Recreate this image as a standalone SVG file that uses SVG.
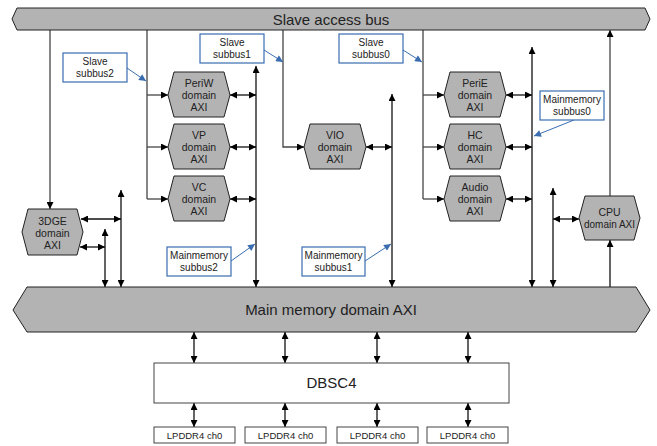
<svg xmlns="http://www.w3.org/2000/svg" width="657" height="446" viewBox="0 0 657 446">
<style>
text{font-family:"Liberation Sans",Arial,sans-serif;fill:#222;text-anchor:middle}
.bus{fill:#b3b3b3;stroke:#222;stroke-width:1}
.hex{fill:#b3b3b3;stroke:#222;stroke-width:1}
.box{fill:#fff;stroke:#444;stroke-width:1}
.call{fill:#fff;stroke:#3a6db0;stroke-width:1.2}
.ht{font-size:10.5px}
.ct{font-size:10px}
.ln{fill:none;stroke:#111;stroke-width:1.3}
.sl{fill:none;stroke:#444;stroke-width:1.3}
.a{marker-end:url(#ah)}
.d{marker-end:url(#ah);marker-start:url(#ah)}
.bl{fill:none;stroke:#3a6db0;stroke-width:1;marker-end:url(#bh)}
</style>
<defs>
<marker id="ah" viewBox="0 0 10 10" refX="10" refY="5" markerWidth="8" markerHeight="7" markerUnits="userSpaceOnUse" orient="auto-start-reverse"><path d="M0,0 L10,5 L0,10 z" fill="#000"/></marker>
<marker id="bh" viewBox="0 0 10 10" refX="10" refY="5" markerWidth="8" markerHeight="7" markerUnits="userSpaceOnUse" orient="auto"><path d="M0,0 L10,5 L0,10 z" fill="#3a6db0"/></marker>
</defs>

<g id="connectors">
<path class="sl a" d="M50,30 V209"/>
<path class="sl" d="M147,30 V199"/>
<path class="sl a" d="M147,95 H168"/>
<path class="sl a" d="M147,147 H168"/>
<path class="sl a" d="M147,199 H168"/>
<path class="sl a" d="M283,30 V147 H304"/>
<path class="sl" d="M423,30 V199"/>
<path class="sl a" d="M423,95 H444"/>
<path class="sl a" d="M423,147 H444"/>
<path class="sl a" d="M423,199 H444"/>
<path class="sl a" d="M610,196 V30"/>
<path class="ln a" d="M610,287 V240"/>
<path class="ln d" d="M256,66 V287"/>
<path class="ln d" d="M392,94 V287"/>
<path class="ln d" d="M532,47 V287"/>
<path class="ln d" d="M121,190 V287"/>
<path class="ln d" d="M105,229 V287"/>
<path class="ln d" d="M553,188 V287"/>
<path class="ln d" d="M230,95 H256"/>
<path class="ln d" d="M230,147 H256"/>
<path class="ln d" d="M230,199 H256"/>
<path class="ln d" d="M366,147 H392"/>
<path class="ln d" d="M506,95 H532"/>
<path class="ln d" d="M506,147 H532"/>
<path class="ln d" d="M506,199 H532"/>
<path class="ln d" d="M81,219 H121"/>
<path class="ln d" d="M80,247 H105"/>
<path class="ln d" d="M553,219 H579"/>
<path class="ln d" d="M194,332 V363"/>
<path class="ln d" d="M285,332 V363"/>
<path class="ln d" d="M377,332 V363"/>
<path class="ln d" d="M468,332 V363"/>
<path class="ln d" d="M194,403 V427"/>
<path class="ln d" d="M285,403 V427"/>
<path class="ln d" d="M377,403 V427"/>
<path class="ln d" d="M468,403 V427"/>
<path class="bl" d="M127,68 L146,81"/>
<path class="bl" d="M264,50 L283,62"/>
<path class="bl" d="M403,50 L422,62"/>
<path class="bl" d="M231,261 L255,244"/>
<path class="bl" d="M365,261 L391,244"/>
<path class="bl" d="M574,120 L534,136"/>
</g>

<g id="slave-bus">
<polygon class="bus" points="17,8 645,8 650,19 645,30 17,30 12,19"/>
<text x="331" y="24.5" font-size="15">Slave access bus</text>
</g>

<g id="main-bus">
<polygon class="bus" points="27,287 636,287 650,310 636,332 27,332 13,310"/>
<text x="331" y="315" font-size="15">Main memory domain AXI</text>
</g>

<g id="periw"><polygon class="hex" points="174,72 224,72 230,95 224,117 174,117 168,95"/>
<text class="ht" x="199" y="87">PeriW</text><text class="ht" x="199" y="99">domain</text><text class="ht" x="199" y="111">AXI</text></g>
<g id="vp"><polygon class="hex" points="174,124 224,124 230,147 224,169 174,169 168,147"/>
<text class="ht" x="199" y="139">VP</text><text class="ht" x="199" y="151">domain</text><text class="ht" x="199" y="163">AXI</text></g>
<g id="vc"><polygon class="hex" points="174,176 224,176 230,199 224,221 174,221 168,199"/>
<text class="ht" x="199" y="191">VC</text><text class="ht" x="199" y="203">domain</text><text class="ht" x="199" y="215">AXI</text></g>
<g id="vio"><polygon class="hex" points="310,124 360,124 366,147 360,169 310,169 304,147"/>
<text class="ht" x="335" y="139">VIO</text><text class="ht" x="335" y="151">domain</text><text class="ht" x="335" y="163">AXI</text></g>
<g id="perie"><polygon class="hex" points="450,72 500,72 506,95 500,117 450,117 444,95"/>
<text class="ht" x="475" y="87">PeriE</text><text class="ht" x="475" y="99">domain</text><text class="ht" x="475" y="111">AXI</text></g>
<g id="hc"><polygon class="hex" points="450,124 500,124 506,147 500,169 450,169 444,147"/>
<text class="ht" x="475" y="139">HC</text><text class="ht" x="475" y="151">domain</text><text class="ht" x="475" y="163">AXI</text></g>
<g id="audio"><polygon class="hex" points="450,176 500,176 506,199 500,221 450,221 444,199"/>
<text class="ht" x="475" y="191">Audio</text><text class="ht" x="475" y="203">domain</text><text class="ht" x="475" y="215">AXI</text></g>
<g id="3dge"><polygon class="hex" points="28,209 77,209 83,232 77,255 28,255 22,232"/>
<text class="ht" x="52.5" y="225">3DGE</text><text class="ht" x="52.5" y="237">domain</text><text class="ht" x="52.5" y="249">AXI</text></g>
<g id="cpu"><polygon class="hex" points="585,196 634,196 640,218 634,240 585,240 579,218"/>
<text class="ht" x="609.5" y="216" font-size="10px">CPU</text><text class="ht" x="609.5" y="228" style="font-size:10px">domain AXI</text></g>

<g id="slave-subbus2"><rect class="call" x="63" y="53" width="64" height="29"/>
<text class="ct" x="95" y="65">Slave</text><text class="ct" x="95" y="77">subbus2</text></g>
<g id="slave-subbus1"><rect class="call" x="200" y="34" width="64" height="29"/>
<text class="ct" x="232" y="46">Slave</text><text class="ct" x="232" y="58">subbus1</text></g>
<g id="slave-subbus0"><rect class="call" x="339" y="34" width="64" height="29"/>
<text class="ct" x="371" y="46">Slave</text><text class="ct" x="371" y="58">subbus0</text></g>
<g id="mm-subbus0"><rect class="call" x="540" y="91" width="64" height="29"/>
<text class="ct" x="572" y="103">Mainmemory</text><text class="ct" x="572" y="115">subbus0</text></g>
<g id="mm-subbus2"><rect class="call" x="167" y="247" width="64" height="29"/>
<text class="ct" x="199" y="259">Mainmemory</text><text class="ct" x="199" y="271">subbus2</text></g>
<g id="mm-subbus1"><rect class="call" x="302" y="247" width="63" height="29"/>
<text class="ct" x="333.5" y="259">Mainmemory</text><text class="ct" x="333.5" y="271">subbus1</text></g>

<g id="dbsc4"><rect class="box" x="154" y="363" width="355" height="40"/>
<text x="331.5" y="388" font-size="15">DBSC4</text></g>

<g id="lpddr0"><rect class="box" x="154" y="427" width="81" height="16"/><text x="194.5" y="438.5" font-size="9.5">LPDDR4 ch0</text></g>
<g id="lpddr1"><rect class="box" x="245" y="427" width="81" height="16"/><text x="285.5" y="438.5" font-size="9.5">LPDDR4 ch0</text></g>
<g id="lpddr2"><rect class="box" x="337" y="427" width="81" height="16"/><text x="377.5" y="438.5" font-size="9.5">LPDDR4 ch0</text></g>
<g id="lpddr3"><rect class="box" x="427" y="427" width="81" height="16"/><text x="467.5" y="438.5" font-size="9.5">LPDDR4 ch0</text></g>
</svg>
